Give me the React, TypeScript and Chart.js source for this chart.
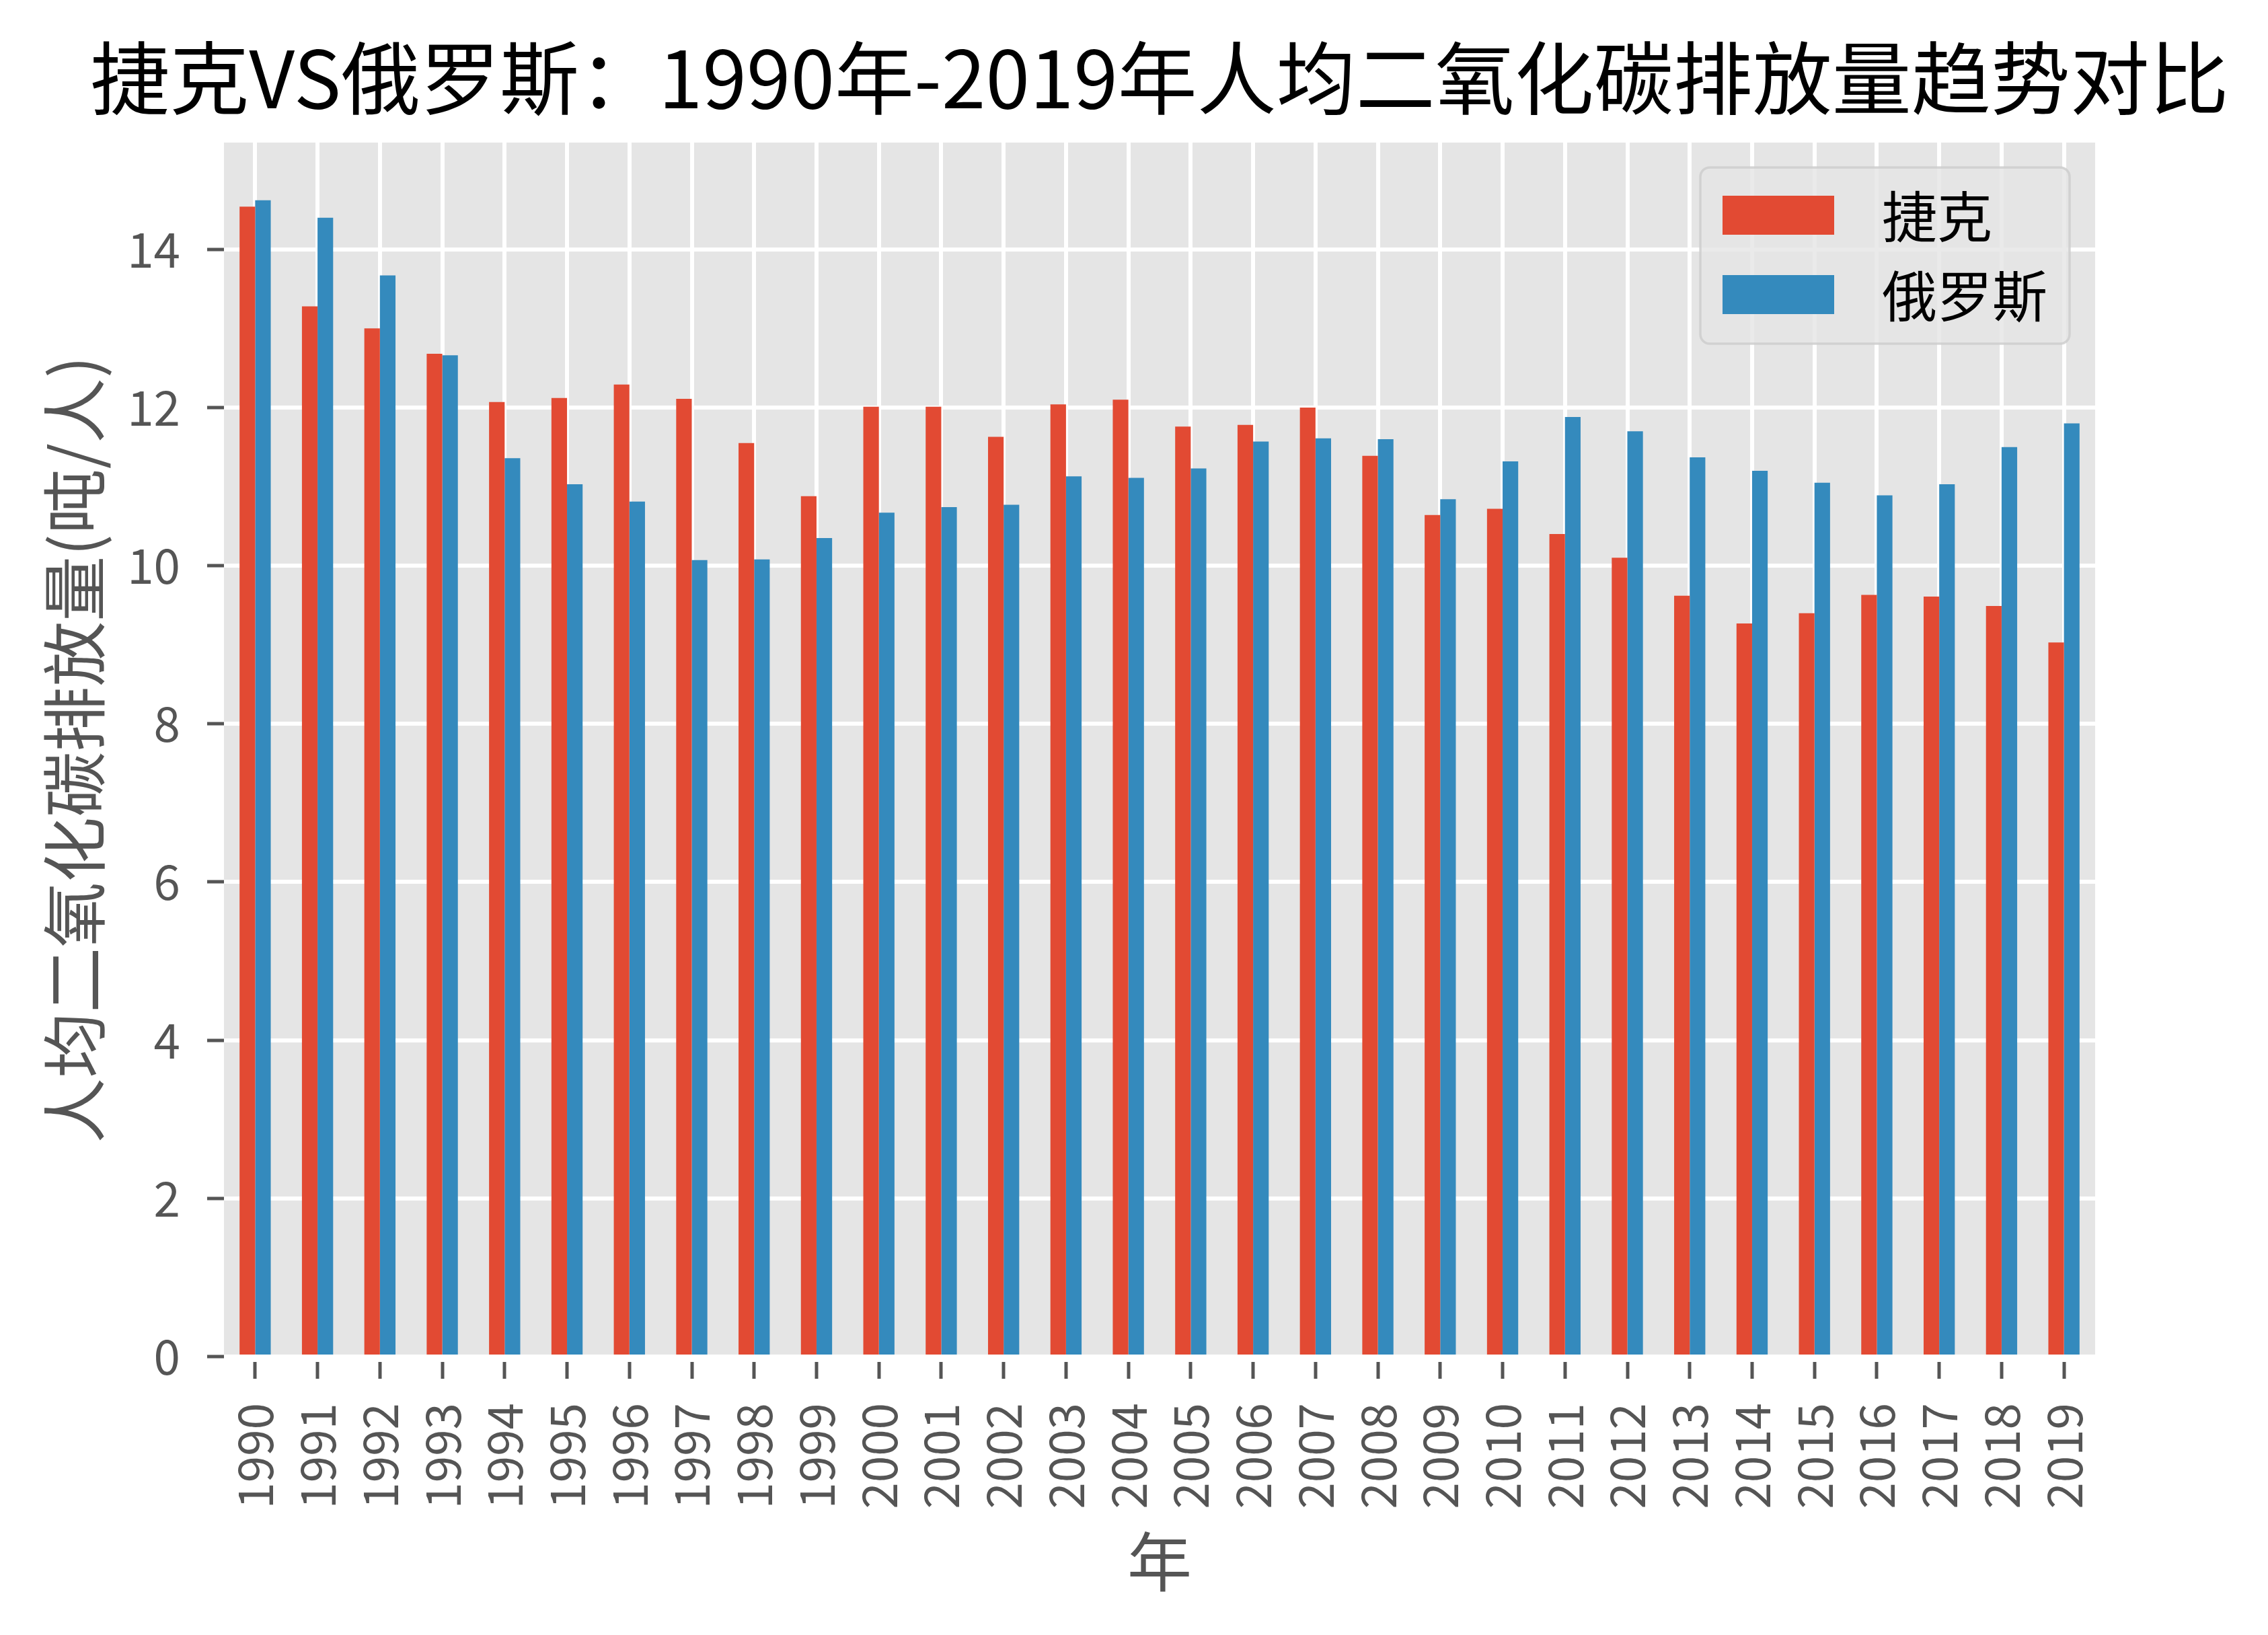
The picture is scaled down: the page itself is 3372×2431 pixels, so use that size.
import React, { useEffect, useRef } from "react";
import { Chart, registerables } from "chart.js";

Chart.register(...registerables);

const years: string[] = [
  "1990", "1991", "1992", "1993", "1994", "1995", "1996", "1997", "1998", "1999",
  "2000", "2001", "2002", "2003", "2004", "2005", "2006", "2007", "2008", "2009",
  "2010", "2011", "2012", "2013", "2014", "2015", "2016", "2017", "2018", "2019",
];

const czech: number[] = [
  14.54, 13.28, 13.0, 12.68, 12.07, 12.12, 12.29, 12.11, 11.55, 10.88,
  12.01, 12.01, 11.63, 12.04, 12.1, 11.76, 11.78, 12.0, 11.39, 10.64,
  10.72, 10.4, 10.1, 9.62, 9.27, 9.4, 9.63, 9.61, 9.49, 9.03,
];

const russia: number[] = [
  14.62, 14.4, 13.67, 12.66, 11.36, 11.03, 10.81, 10.07, 10.08, 10.35,
  10.67, 10.74, 10.77, 11.13, 11.11, 11.23, 11.57, 11.61, 11.6, 10.84,
  11.32, 11.88, 11.7, 11.37, 11.2, 11.05, 10.89, 11.03, 11.5, 11.8,
];

const seriesNames: string[] = ["捷克", "俄罗斯"];
const seriesColors: string[] = ["#E24A33", "#348ABD"];

const titleText = "捷克VS俄罗斯：1990年-2019年人均二氧化碳排放量趋势对比";
const xTitle = "年";
const yTitle = "人均二氧化碳排放量(吨/人)";
const yMax = 15.35;

const FONT = "'Noto Sans CJK SC', 'Noto Sans', sans-serif";

const bgPlugin = {
  id: "ggBackground",
  beforeDraw(chart: any) {
    const { ctx, chartArea } = chart;
    ctx.save();
    ctx.fillStyle = "#FFFFFF";
    ctx.fillRect(0, 0, chart.width, chart.height);
    ctx.fillStyle = "#E5E5E5";
    ctx.fillRect(chartArea.left, chartArea.top, chartArea.right - chartArea.left, chartArea.bottom - chartArea.top);
    ctx.restore();
  },
};

const titlePlugin = {
  id: "axesTitle",
  afterDraw(chart: any) {
    const { ctx, chartArea } = chart;
    ctx.save();
    ctx.font = `118px ${FONT}`;
    ctx.fillStyle = "#000000";
    ctx.textAlign = "center";
    ctx.textBaseline = "middle";
    ctx.fillText(titleText, (chartArea.left + chartArea.right) / 2, chartArea.top - 96);
    ctx.restore();
  },
};

const legendPlugin = {
  id: "insideLegend",
  afterDraw(chart: any) {
    const { ctx, chartArea } = chart;
    const w = 549;
    const h = 262;
    const left = chartArea.right - 38 - w;
    const top = chartArea.top + 37;
    const r = 14;
    ctx.save();
    ctx.beginPath();
    ctx.moveTo(left + r, top);
    ctx.lineTo(left + w - r, top);
    ctx.arcTo(left + w, top, left + w, top + r, r);
    ctx.lineTo(left + w, top + h - r);
    ctx.arcTo(left + w, top + h, left + w - r, top + h, r);
    ctx.lineTo(left + r, top + h);
    ctx.arcTo(left, top + h, left, top + h - r, r);
    ctx.lineTo(left, top + r);
    ctx.arcTo(left, top, left + r, top, r);
    ctx.closePath();
    ctx.fillStyle = "rgba(229,229,229,0.8)";
    ctx.fill();
    ctx.lineWidth = 3.5;
    ctx.strokeStyle = "rgba(204,204,204,0.8)";
    ctx.stroke();
    const ds = chart.data.datasets;
    ctx.font = `82px ${FONT}`;
    ctx.textBaseline = "middle";
    ctx.textAlign = "left";
    ds.forEach((d: any, i: number) => {
      const py = top + 42 + i * 118;
      ctx.fillStyle = d.backgroundColor;
      ctx.fillRect(left + 33, py, 166, 58);
      ctx.fillStyle = "#000000";
      ctx.fillText(d.label, left + 270, py + 31);
    });
    ctx.restore();
  },
};

export default function App() {
  const canvasRef = useRef<HTMLCanvasElement | null>(null);

  useEffect(() => {
    if (!canvasRef.current) return;
    Chart.defaults.font.family = FONT;
    const chart = new Chart(canvasRef.current, {
      type: "bar",
      data: {
        labels: years,
        datasets: [
          {
            label: seriesNames[0],
            data: czech,
            backgroundColor: seriesColors[0],
            borderWidth: 0,
            categoryPercentage: 0.5,
            barPercentage: 1.0,
          },
          {
            label: seriesNames[1],
            data: russia,
            backgroundColor: seriesColors[1],
            borderWidth: 0,
            categoryPercentage: 0.5,
            barPercentage: 1.0,
          },
        ],
      },
      options: {
        responsive: false,
        maintainAspectRatio: false,
        devicePixelRatio: 1,
        animation: false,
        layout: { padding: { left: 0, right: 257, top: 212, bottom: 0 } },
        plugins: {
          legend: { display: false },
          tooltip: { enabled: false },
          title: { display: false },
        },
        scales: {
          x: {
            offset: true,
            afterFit: (scale: any) => {
              scale.height = 414;
            },
            grid: {
              offset: false,
              color: "#FFFFFF",
              lineWidth: 6,
              drawTicks: true,
              tickLength: 33,
              tickColor: "#555555",
              tickWidth: 5,
              tickBorderDash: [0, 8, 25, 200],
            },
            border: { display: false },
            ticks: {
              autoSkip: false,
              minRotation: 90,
              maxRotation: 90,
              color: "#555555",
              padding: 36,
              font: { size: 71, family: FONT },
            },
            title: {
              display: true,
              text: xTitle,
              color: "#555555",
              font: { size: 96, family: FONT, lineHeight: 1.2 },
              padding: { top: 0, bottom: 52 },
            },
          },
          y: {
            min: 0,
            max: yMax,
            afterFit: (scale: any) => {
              scale.width = 333;
            },
            grid: {
              color: "#FFFFFF",
              lineWidth: 6,
              drawTicks: true,
              tickLength: 33,
              tickColor: "#555555",
              tickWidth: 5,
              tickBorderDash: [0, 8, 25, 200],
            },
            border: { display: false },
            ticks: {
              stepSize: 2,
              includeBounds: false,
              color: "#555555",
              padding: 32,
              font: { size: 71, family: FONT },
            },
            title: {
              display: true,
              text: yTitle,
              color: "#555555",
              font: { size: 97, family: FONT, lineHeight: 1.2 },
              padding: { top: 52, bottom: 0 },
            },
          },
        },
      },
      plugins: [bgPlugin, titlePlugin, legendPlugin],
    });
    return () => chart.destroy();
  }, []);

  return (
    <div style={{ position: "fixed", left: 0, top: 0, width: 3372, height: 2431, background: "#fff" }}>
      <canvas ref={canvasRef} width={3372} height={2431} style={{ display: "block", width: 3372, height: 2431 }} />
    </div>
  );
}
